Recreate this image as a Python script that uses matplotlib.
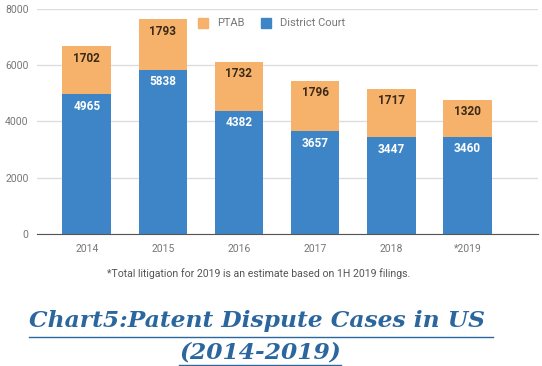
import matplotlib.pyplot as plt
import numpy as np

years = ['2014', '2015', '2016', '2017', '2018', '*2019']
district = [4965, 5838, 4382, 3657, 3447, 3460]
ptab = [1702, 1793, 1732, 1796, 1717, 1320]
yticks = [0, 2000, 4000, 6000, 8000]

blue = '#3D85C6'
orange = '#F6B26B'

plt.rcParams['font.family'] = ['Roboto', 'DejaVu Sans']

fig = plt.figure(figsize=(5.42, 3.66), dpi=100)
W, H = 542, 366
ax = fig.add_axes([37 / W, (H - 234) / H, (538 - 37) / W, 225 / H])

x = np.arange(len(years))
ax.bar(x, district, width=0.64, color=blue, zorder=2)
ax.bar(x, ptab, bottom=district, width=0.64, color=orange, zorder=2)

for i in range(len(years)):
    ax.text(x[i], district[i] - 430, str(district[i]), ha='center', va='center',
            color='white', fontsize=8.5, fontweight='bold', zorder=3)
    ax.text(x[i], district[i] + ptab[i] - 420, str(ptab[i]), ha='center', va='center',
            color='#3b2a16', fontsize=8.5, fontweight='bold', zorder=3)

ax.set_xlim(-0.655, 5.93)
ax.set_ylim(0, 8000)
ax.set_yticks(yticks)
ax.set_xticks(x)
ax.set_xticklabels(years)
ax.tick_params(length=0, labelsize=7.5, labelcolor='#777777')
ax.tick_params(axis='y', pad=6)
ax.tick_params(axis='x', pad=7)
ax.grid(axis='y', color='#dddddd', linewidth=1, zorder=0)
for s in ['top', 'right', 'left']:
    ax.spines[s].set_visible(False)
ax.spines['bottom'].set_color('#555555')
ax.spines['bottom'].set_zorder(4)

# legend
fig.patches.append(plt.Rectangle((198 / W, 1 - 28 / H), 10 / W, 10 / H,
                                 transform=fig.transFigure, color=orange, figure=fig))
fig.text(217 / W, 1 - 23 / H, 'PTAB', fontsize=8, color='#777777', va='center')
fig.patches.append(plt.Rectangle((261 / W, 1 - 28 / H), 10 / W, 10 / H,
                                 transform=fig.transFigure, color=blue, figure=fig))
fig.text(280 / W, 1 - 23 / H, 'District Court', fontsize=8, color='#777777', va='center')

fig.text(259 / W, 1 - 274 / H, '*Total litigation for 2019 is an estimate based on 1H 2019 filings.',
         fontsize=7.6, color='#555555', ha='center', va='center')

# title with underline
tcol = '#2B679E'
tfont = dict(family='DejaVu Serif', style='italic', fontweight='bold', color=tcol,
             ha='center', va='center')
t1 = fig.text(261 / W, 1 - 321 / H, 'Chart5:Patent Dispute Cases in US ', fontsize=16, **tfont)
t2 = fig.text(260 / W, 1 - 353 / H, '(2014-2019)', fontsize=16, **tfont)
fig.canvas.draw()
r = fig.canvas.get_renderer()
# fit line 1 to the reference width
w1 = t1.get_window_extent(r).width
fs = 16 * 464 / w1
t1.set_fontsize(fs)
t2.set_fontsize(fs)
fig.canvas.draw()
inv = fig.transFigure.inverted()
for t, uy in [(t1, 337), (t2, 365)]:
    bb = t.get_window_extent(r)
    (x0, _), (x1, _) = inv.transform([(bb.x0, 0), (bb.x1, 0)])
    fig.add_artist(plt.Line2D([x0, x1], [1 - uy / H, 1 - uy / H], color=tcol,
                              linewidth=1, transform=fig.transFigure))

fig.savefig('out.png', dpi=100)
